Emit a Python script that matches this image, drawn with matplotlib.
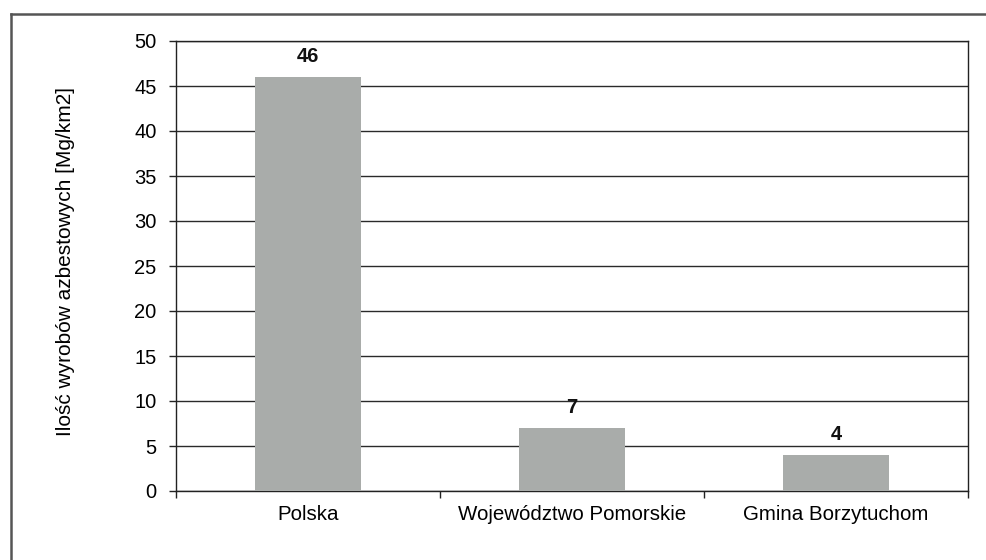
import matplotlib
matplotlib.use("Agg")
import matplotlib.pyplot as plt
from matplotlib.lines import Line2D

categories = ["Polska", "Województwo Pomorskie", "Gmina Borzytuchom"]
values = [46, 7, 4]
yticks = [0, 5, 10, 15, 20, 25, 30, 35, 40, 45, 50]
ylabel = "Ilość wyrobów azbestowych [Mg/km2]"

plt.rcParams['font.family'] = ['Liberation Sans', 'DejaVu Sans']

fig = plt.figure(figsize=(9.86, 5.6), dpi=100)
fig.patch.set_facecolor('white')
ax = fig.add_axes([176/986, 1-491/560, (968-176)/986, (491-41)/560])

x = list(range(len(categories)))
bars = ax.bar(x, values, width=0.40, color='#a9acaa', zorder=3)
for xi, v in zip(x, values):
    ax.annotate(f"{v}", (xi, v), xytext=(0, 8), textcoords='offset points',
                ha='center', va='bottom', fontsize=14.5, fontweight='bold', color='#111111')

ax.set_xlim(-0.5, len(categories) - 0.5)
ax.set_ylim(0, 50)
ax.set_yticks(yticks)
ax.yaxis.grid(True, color='#2a2a2a', linewidth=1.0, zorder=1)
ax.set_axisbelow(True)

ax.set_xticks([i - 0.5 for i in range(len(categories) + 1)])
ax.set_xticklabels([])
ax.set_xticks(x, minor=True)
ax.set_xticklabels(categories, minor=True, fontsize=14.8)
ax.tick_params(axis='x', which='major', length=5, width=1, color='#222222', direction='out')
ax.tick_params(axis='x', which='minor', length=0, pad=10)
ax.tick_params(axis='y', length=5, width=1, color='#222222', direction='out', labelsize=14.5, pad=9)

for s in ['left', 'right', 'bottom', 'top']:
    ax.spines[s].set_color('#222222')
    ax.spines[s].set_linewidth(1.0)

ax.set_ylabel(ylabel, fontsize=15)
ax.yaxis.set_label_coords(-0.128, 0.51)

# outer frame (top and left edges visible)
fig.add_artist(Line2D([11/986, 1.0], [1-14/560, 1-14/560], transform=fig.transFigure,
                      color='#555555', linewidth=1.8))
fig.add_artist(Line2D([11/986, 11/986], [0.0, 1-14/560], transform=fig.transFigure,
                      color='#555555', linewidth=1.8))

fig.savefig("out.png", dpi=100, facecolor='white')
